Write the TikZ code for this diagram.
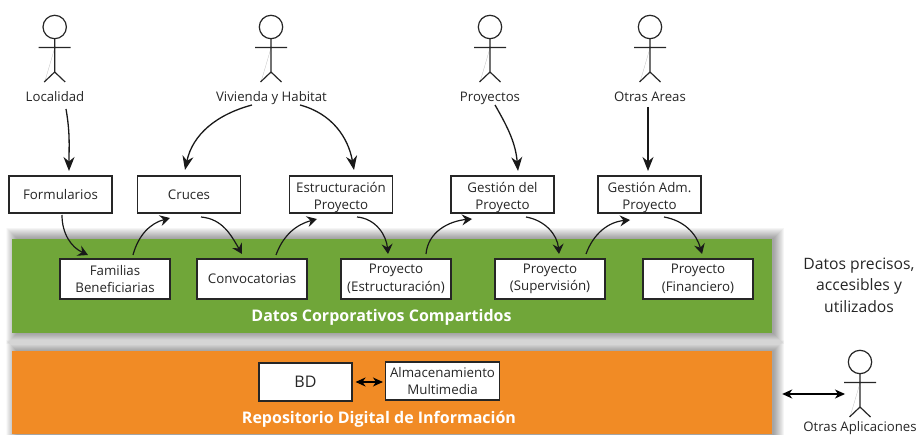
\documentclass[tikz,border=0pt]{standalone}
\usepackage{fontspec}
\setmainfont{Open Sans}
\usetikzlibrary{arrows.meta}
\tikzset{
  px/.style={x=1pt,y=-1pt},
  boxn/.style={draw=black!85,line width=1.1pt,fill=white,inner sep=0pt,align=center,font=\fontsize{13.3}{17.5}\selectfont,text=black!85},
  upbox/.style={boxn,minimum width=103pt,minimum height=37pt},
  lowbox/.style={boxn,minimum width=110pt,minimum height=40pt},
  lab/.style={inner sep=0pt,align=center,font=\fontsize{13.2}{15}\selectfont,text=black!85,text height=10pt,text depth=3pt},
  band/.style={inner sep=0pt,minimum width=760pt},
  bandtxt/.style={inner sep=0pt,text=white,font=\fontsize{16}{17}\selectfont\bfseries,text height=11pt,text depth=3pt},
  flow/.style={line width=1.3pt,black!90,-{Stealth[length=14pt,width=11pt,inset=4.5pt]}},
  flows/.style={line width=1.2pt,black!90,-{Stealth[length=10pt,width=11pt,inset=3.5pt]}},
  both/.style={line width=1.2pt,black,{Stealth[length=10pt,width=9pt,inset=3pt]}-{Stealth[length=10pt,width=9pt,inset=3pt]}},
  actor/.pic={
    \draw[line width=1.2pt,black!85] (0,0) circle[radius=11.7pt];
    \draw[line width=.3pt,black!25] (0,21) -- (-10,55);
    \draw[line width=1.2pt,black!85] (0,12) -- (0,45) (-16,20.5) -- (16,20.5) (-10.5,55) -- (0,45) -- (10.5,55);
  }
}
\begin{document}
\begin{tikzpicture}[px]
\useasboundingbox (0,0) rectangle (917,435);
% soft shadows
\foreach \e in {0.5,1,...,11}{
  \fill[black,opacity=.018] (12-\e+5,239-\e) rectangle (772+\e+1,333+\e);
  \fill[black,opacity=.018] (12-\e+5,351-\e) rectangle (772+\e+1,434+\e);
}
\fill[white] (0,434.6) rectangle (917,436);
\node[band,fill={rgb,255:red,112;green,166;blue,57},minimum height=94pt] (green) at (392,286) {};
\node[band,fill={rgb,255:red,241;green,139;blue,37},minimum height=83pt] (orange) at (392,392.5) {};
\node[bandtxt] (gt) at (381.5,317) {Datos Corporativos Compartidos};
\node[bandtxt] (ot) at (379,419) {Repositorio Digital de Información};

% actors
\pic at (54.7,27) {actor};
\pic at (271,27) {actor};
\pic at (490,27) {actor};
\pic at (650,27) {actor};
\pic at (860,362) {actor};

% labels
\node[lab] (loc) at (55,98.5) {Localidad};
\node[lab] (viv) at (271.5,98.5) {Vivienda y Habitat};
\node[lab] (proy) at (490,98.5) {Proyectos};
\node[lab] (otras) at (650,98.5) {Otras Areas};
\node[lab] (oapp) at (860,427.5) {Otras Aplicaciones};
\node[inner sep=0pt,align=center,text=black!85,font=\fontsize{15.7}{21.5}\selectfont] (nota) at (859,285) {Datos precisos,\\accesibles y\\utilizados};

% upper boxes
\node[upbox] (form) at (60.5,194.5) {Formularios};
\node[upbox] (cruces) at (189,194.5) {Cruces};
\node[upbox] (estr) at (341,194.5) {\rule{0pt}{16pt}Estructuración\\Proyecto};
\node[upbox] (gest) at (502.5,194.5) {\rule{0pt}{16pt}Gestión del\\Proyecto};
\node[upbox] (gadm) at (649.5,194.5) {\rule{0pt}{16pt}Gestión Adm.\\Proyecto};
% lower boxes
\node[lowbox] (fam) at (115,279) {Familias\\Beneficiarias};
\node[lowbox] (conv) at (252,279) {Convocatorias};
\node[lowbox] (pe) at (396,279) {Proyecto\\(Estructuración)};
\node[lowbox] (ps) at (550,279) {Proyecto\\(Supervisión)};
\node[lowbox] (pf) at (698,279) {Proyecto\\(Financiero)};
% repository boxes
\node[boxn,minimum width=93pt,minimum height=38pt,font=\fontsize{16}{18}\selectfont] (bd) at (305.5,382) {BD};
\node[boxn,minimum width=114pt,minimum height=38pt] (alm) at (442.5,381) {Almacenamiento\\Multimedia};

\coordinate (act) at (845,394);

% connectors from actors
\draw[flow] ([shift={(11pt,-10.5pt)}]loc.center) to[out=-80,in=90] ([shift={(8.5pt,23.5pt)}]form.center);
\draw[flow] ([shift={(-19.5pt,-6.5pt)}]viv.center) to[out=195,in=78] ([shift={(-4pt,24.5pt)}]cruces.center);
\draw[flow] ([shift={(28.5pt,-6.5pt)}]viv.center) to[out=-15,in=100] ([shift={(13pt,24.5pt)}]estr.center);
\draw[flow] ([shift={(5pt,-6.5pt)}]proy.center) to[out=-60,in=95] ([shift={(15.5pt,23.5pt)}]gest.center);
\draw[flow] ([shift={(-2pt,-8.5pt)}]otras.center) -- ([shift={(-1.5pt,23.5pt)}]gadm.center);

% connectors between boxes
\draw[flows] ([shift={(1.5pt,-20.5pt)}]form.center) to[out=-90,in=155] ([shift={(-27pt,24pt)}]fam.center);
\draw[flows] ([shift={(18pt,24pt)}]fam.center) to[out=75,in=195] ([shift={(-19pt,-23.5pt)}]cruces.center);
\draw[flows] ([shift={(12pt,-22.5pt)}]cruces.center) to[out=-5,in=120] ([shift={(-10pt,25pt)}]conv.center);
\draw[flows] ([shift={(24pt,24pt)}]conv.center) to[out=70,in=195] ([shift={(-24pt,-24.5pt)}]estr.center);
\draw[flows] ([shift={(16pt,-22.5pt)}]estr.center) to[out=-5,in=95] ([shift={(-8pt,25pt)}]pe.center);
\draw[flows] ([shift={(30pt,25pt)}]pe.center) to[out=85,in=185] ([shift={(-30.5pt,-24.5pt)}]gest.center);
\draw[flows] ([shift={(23.5pt,-22.5pt)}]gest.center) to[out=-10,in=95] ([shift={(9pt,25pt)}]ps.center);
\draw[flows] ([shift={(36pt,25pt)}]ps.center) to[out=70,in=185] ([shift={(-19.5pt,-25.5pt)}]gadm.center);
\draw[flows] ([shift={(14.5pt,-22.5pt)}]gadm.center) to[out=-10,in=105] ([shift={(4pt,25pt)}]pf.center);

% bidirectional
\draw[both] ([xshift=3pt]bd.east) -- ([xshift=-2pt,yshift=-1pt]alm.west);
\draw[both] ([xshift=10pt,yshift=-1.5pt]orange.east) -- (act);
\end{tikzpicture}
\end{document}
